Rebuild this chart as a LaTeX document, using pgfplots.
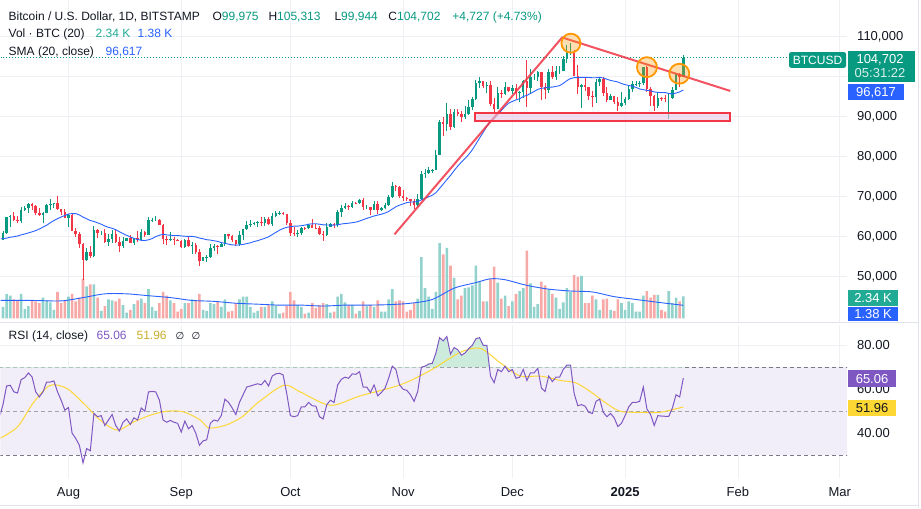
\documentclass[border=0pt]{standalone}
\usepackage{pgfplots}
\pgfplotsset{compat=1.18}
\usepackage{pgfplotstable}
\usepgfplotslibrary{fillbetween}
\usepackage{fontspec}
\setmainfont{Liberation Sans}
\newfontfamily\dejavu{DejaVu Sans}
\definecolor{tvgreen}{HTML}{089981}
\definecolor{tvred}{HTML}{F23645}
\definecolor{volgreen}{HTML}{92D2CC}
\definecolor{volred}{HTML}{F7A9A7}
\definecolor{tvblue}{HTML}{2962FF}
\definecolor{rsipurple}{HTML}{7E57C2}
\definecolor{rsiyellow}{HTML}{FDD835}
\definecolor{rsiband}{HTML}{F2EEF9}
\definecolor{gridc}{HTML}{EEF0F4}
\definecolor{txt}{HTML}{131722}
\definecolor{dashc}{HTML}{787B86}
\definecolor{volvalgreen}{HTML}{22AB94}
\definecolor{obfill}{HTML}{CDEBDC}
\definecolor{osfill}{HTML}{F9C9CD}
\definecolor{tvorange}{HTML}{FF9800}
\definecolor{boxfill}{HTML}{E7C9E6}
\definecolor{sepc}{HTML}{E0E3EB}
\newcommand\hdr{\fontsize{12}{14}\selectfont}
\newcommand\lbl{\fontsize{13}{15}\selectfont}

\pgfplotstableread{
d o h l c v
-18 59200 61400 59000 60800 1.2
-17 60800 64900 60650 64800 2.6
-16 64800 65400 62400 65100 2.4
-15 65100 66100 63900 64100 2.0
-14 64100 65100 63250 63950 1.9
-13 63950 67450 63350 66700 2.6
-12 66700 67600 66450 67150 1.0
-11 67150 68350 65800 68200 1.3
-10 68200 68450 66650 67600 1.9
-9 67600 67800 65400 65950 1.8
-8 65950 67100 65150 65400 1.6
-7 65400 66150 63450 65800 2.2
-6 65800 68200 65750 67900 1.9
-5 67900 69400 66650 68000 1.7
-4 68000 68300 67050 68250 0.9
-3 68250 70050 66600 66800 2.8
-2 66800 66950 65350 66200 1.6
-1 66200 66800 64550 64600 1.9
0 64600 65600 62300 65350 2.3
1 65350 65600 61250 61450 2.6
2 61450 62200 59850 60700 1.8
3 60700 61100 57200 58100 2.2
4 58100 58300 49050 54000 4.2
5 54000 57050 53950 56050 3.4
6 56050 57700 54600 55100 3.6
7 55100 62700 54750 61700 3.6
8 61700 61750 59600 60900 2.2
9 60900 61450 60300 60900 0.8
10 60900 61800 58300 58700 1.3
11 58700 60650 57650 59350 2.0
12 59350 61550 58450 60600 1.9
13 60600 61800 58450 58700 1.8
14 58700 59850 56100 57550 2.1
15 57550 59800 57100 58900 1.4
16 58900 59650 58800 59500 0.6
17 59500 60250 58450 58450 0.9
18 58450 59600 57850 59500 1.5
19 59500 61350 58600 59000 1.9
20 59000 61800 58800 61150 2.1
21 61150 61400 59800 60400 1.6
22 60400 64900 60350 64100 3.1
23 64100 64500 63600 64200 1.2
24 64200 65000 63800 64200 0.8
25 64200 64450 62800 62850 1.6
26 62850 63200 58100 59400 2.8
27 59400 60200 57900 59000 2.4
28 59000 61150 58800 59350 1.9
29 59350 59900 57850 59100 1.6
30 59100 59400 58750 58950 0.7
31 58950 59050 57200 57300 1.0
32 57300 59400 57100 59100 1.6
33 59100 59800 57400 57500 1.6
34 57500 58500 55600 57950 2.0
35 57950 58300 55650 56150 1.9
36 56150 56950 52550 53950 2.6
37 53950 54850 53750 54850 0.9
38 54850 55300 53650 54900 0.8
39 54900 58100 54600 57000 1.6
40 57000 58000 56400 57650 1.5
41 57650 57950 55550 57350 1.8
42 57350 58600 57350 58130 1.2
43 58130 60650 57650 60550 2.0
44 60550 60650 59450 60000 0.7
45 60000 60400 58700 59150 0.8
46 59150 59200 57500 58200 1.6
47 58200 61300 57650 60300 2.0
48 60300 61750 59200 61750 2.3
49 61750 63850 61600 62950 2.3
50 62950 64100 62400 63200 1.2
51 63200 63550 62750 63350 0.6
52 63350 63950 62400 63580 0.8
53 63580 64750 62650 63340 1.2
54 63340 64800 62700 64260 1.2
55 64260 64800 62950 63150 1.4
56 63150 65800 62700 65180 1.8
57 65180 66450 64800 65800 1.4
58 65800 66250 65450 65890 0.5
59 65890 66050 65400 65600 0.6
60 65600 65700 62900 63330 1.3
61 63330 64100 60150 60800 2.8
62 60800 62400 60000 60650 1.9
63 60650 61500 59800 60750 1.4
64 60750 62450 60450 62100 1.2
65 62100 62400 61700 62050 0.5
66 62050 63000 61850 62800 0.6
67 62800 64450 62150 62200 1.6
68 62200 63150 61850 62150 1.1
69 62150 62550 60300 60600 1.4
70 60600 61300 58900 60300 1.6
71 60300 63400 60050 62450 1.5
72 62450 63450 62400 63200 0.6
73 63200 63300 62050 62850 0.7
74 62850 66500 62450 66050 2.3
75 66050 67900 64800 67050 2.6
76 67050 68400 66750 67600 1.7
77 67600 67950 66700 67400 1.4
78 67400 68950 67100 68400 1.4
79 68400 68700 68050 68350 0.5
80 68350 69400 68100 69000 0.8
81 69000 69500 66600 67400 1.8
82 67400 67800 66850 67400 1.3
83 67400 67450 65300 66650 1.4
84 66650 68800 66500 68150 1.2
85 68150 68750 65550 66600 1.9
86 66600 67450 66450 67000 0.7
87 67000 68300 66800 67900 0.7
88 67900 70250 67500 69900 2.0
89 69900 73600 69700 72700 3.1
90 72700 72950 71450 72300 1.8
91 72300 72650 69700 70200 1.9
92 70200 71600 68800 69500 1.8
93 69500 69950 68800 69350 0.7
94 69350 69400 67500 68750 0.9
95 68750 69450 66800 67800 1.6
96 67800 70550 67450 69400 2.1
97 69400 76400 69050 75600 6.5
98 75600 76950 74500 75900 3.2
99 75900 77250 75600 76550 2.3
100 76550 76950 75950 76700 1.0
101 76700 81500 76500 80450 2.8
102 80450 89000 80250 88700 8.0
103 88700 89950 85100 88000 6.8
104 88000 93400 86300 90500 7.5
105 90500 91800 86700 87400 5.6
106 87400 91850 87050 91050 4.3
107 91050 91800 90100 90600 2.0
108 90600 91450 88700 89850 2.4
109 89850 92600 89400 90500 3.2
110 90500 94000 90400 92300 3.3
111 92300 94900 91500 94300 3.5
112 94300 99000 94100 98350 5.6
113 98350 99800 97200 98900 3.9
114 98900 98950 97150 97700 1.8
115 97700 98550 95750 97900 1.8
116 97900 98900 92600 93000 4.2
117 93000 94650 90800 91950 5.5
118 91950 97350 91800 95900 3.8
119 95900 96650 94650 95650 2.1
120 95650 98700 95350 97450 2.4
121 97450 97450 96100 96400 1.3
122 96400 97850 95700 97200 1.8
123 97200 98150 94400 95850 2.6
124 95850 96300 93600 96000 2.9
125 96000 99000 94650 98750 3.2
126 98750 104000 92300 97000 7.2
127 97000 101900 95950 99900 3.7
128 99900 100550 99050 99900 1.2
129 99900 101400 98800 101150 1.5
130 101150 101200 94200 97350 3.9
131 97350 98300 94300 96600 3.5
132 96600 101900 95750 101100 3.1
133 101100 102500 99350 99950 2.6
134 99950 102650 99200 101400 2.2
135 101400 102650 100650 101400 1.0
136 101400 105200 101250 104300 1.7
137 104300 107800 103300 106050 3.2
138 106050 108350 105350 106150 2.8
139 106150 106500 100000 100200 4.6
140 100200 102800 95700 97450 4.4
141 97450 98150 92200 97800 4.5
142 97800 99550 96450 97250 1.6
143 97250 97400 94200 95100 1.6
144 95100 96450 92450 94750 2.4
145 94750 99400 93400 98700 2.0
146 98700 99950 97600 99400 0.9
147 99400 99950 95150 95800 2.0
148 95800 97400 93500 94200 2.1
149 94200 95650 94150 95150 0.9
150 95150 95200 93100 93550 0.8
151 93550 94950 91400 92650 2.0
152 92650 96150 92450 93400 1.6
153 93400 94950 92750 94400 0.9
154 94400 97800 94200 96900 1.8
155 96900 98950 96000 98100 1.6
156 98100 98750 97550 98200 0.7
157 98200 98800 97250 98350 0.7
158 98350 102450 97950 102300 2.4
159 102300 102700 96100 96950 2.9
160 96950 97250 92550 95050 2.2
161 95050 95350 91250 92500 2.5
162 92500 95800 92200 94700 2.5
163 94700 94950 93850 94550 0.9
164 94550 95400 93700 94500 0.7
165 94500 95900 89250 94500 2.9
166 94500 97350 94300 96500 1.6
167 96500 100700 96500 100500 2.2
168 100500 100800 97300 99975 1.8
169 99975 105313 99944 104702 2.34
}\ohlc

\pgfplotstableread{
d s
-19 59390
-18 59420
-17 59570
-16 59785
-15 59910
-14 60090
-13 60375
-12 60600
-11 60865
-10 61140
-9 61430
-8 61850
-7 62310
-6 62790
-5 63400
-4 63975
-3 64430
-2 64855
-1 65220
0 65590
1 65705
2 65700
3 65365
4 64810
5 64408
6 63965
7 63715
8 63403
9 63038
10 62593
11 62263
12 62023
13 61668
14 61150
15 60695
16 60258
17 59840
18 59505
19 59225
20 59015
21 58963
22 59133
23 59438
24 59948
25 60288
26 60503
27 60368
28 60290
29 60200
30 60213
31 60110
32 60035
33 59975
34 59995
35 59858
36 59580
37 59400
38 59170
39 59070
40 58895
41 58743
42 58444
43 58262
44 58052
45 57867
46 57807
47 57872
48 57992
49 58184
50 58397
51 58699
52 58923
53 59215
54 59531
55 59881
56 60442
57 60990
58 61539
59 61969
60 62253
61 62426
62 62552
63 62562
64 62667
65 62812
66 63042
67 63137
68 63157
69 63039
70 62894
71 62849
72 62830
73 62806
74 62895
75 63090
76 63211
77 63291
78 63417
79 63554
80 63838
81 64168
82 64505
83 64800
84 65103
85 65330
86 65540
87 65825
88 66213
89 66818
90 67418
91 67805
92 68120
93 68445
94 68580
95 68618
96 68708
97 69118
98 69493
99 69903
100 70288
101 70940
102 72005
103 73073
104 74190
105 75230
106 76433
107 77568
108 78565
109 79455
110 80455
111 81660
112 83103
113 84580
114 86028
115 87533
116 88713
117 89530
118 90530
119 91485
120 92523
121 93320
122 93745
123 94138
124 94413
125 94980
126 95278
127 95743
128 96245
129 96778
130 97030
131 97145
132 97283
133 97335
134 97520
135 97695
136 98260
137 98965
138 99478
139 99705
140 99705
141 99775
142 99778
143 99740
144 99678
145 99675
146 99795
147 99590
148 99305
149 99005
150 98815
151 98618
152 98233
153 97955
154 97730
155 97565
156 97260
157 96875
158 96683
159 96520
160 96400
161 96135
162 96008
163 95980
164 95968
165 95758
166 95613
167 95848
168 96136
169 96617
}\smatab

\pgfplotstableread{
d r
-19 47
-18 53
-17 61.5
-16 61.8
-15 58.8
-14 58.3
-13 64.4
-12 65.3
-11 67.4
-10 65.6
-9 58.8
-8 56.5
-7 58.8
-6 63.3
-5 63.3
-4 63.8
-3 58.8
-2 55
-1 50.5
0 51.7
1 40
2 37.6
3 34.5
4 26.5
5 33
6 32
7 49
8 47.5
9 48
10 43.5
11 46
12 48.5
13 43.5
14 41
15 45
16 46.5
17 44
18 47
19 46
20 51.5
21 50
22 58.8
23 59
24 58.8
25 55
26 46
27 45
28 45.8
29 45
30 44.5
31 40.5
32 45.5
33 42
34 43.5
35 40
36 34.5
37 36.5
38 37
39 44.5
40 46
41 45.5
42 48
43 55.5
44 54
45 51.5
46 48.5
47 54
48 57.5
49 61
50 61.5
51 62
52 62.5
53 62
54 64
55 61.5
56 66
57 67
58 67.3
59 66.5
60 58
61 48
62 47.5
63 48
64 52
65 52
66 54
67 52.5
68 52.3
69 47.5
70 46.5
71 53
72 55
73 54
74 62
75 64.5
76 65.5
77 65
78 67
79 66.8
80 68
81 61
82 61
83 58.5
84 62
85 57
86 58.5
87 60.5
88 65
89 70.5
90 69
91 62
92 60
93 59.5
94 57.5
95 54.5
96 59
97 70
98 70.5
99 71.5
100 71.8
101 76.5
102 83.5
103 82
104 84
105 76
106 79
107 78
108 75.5
109 76.5
110 78.5
111 80
112 83
113 83.5
114 80
115 80
116 66
117 63
118 69
119 68
120 70.5
121 68
122 69
123 65
124 65.5
125 69
126 64
127 67.5
128 67.5
129 69.5
130 60.5
131 59
132 66
133 63.5
134 65.5
135 65.5
136 69
137 71
138 71
139 58
140 52.5
141 53
142 52.3
143 49.5
144 49
145 54.5
146 55.5
147 49.5
148 47.5
149 49
150 47
151 43
152 44.5
153 48
154 52
155 54
156 54
157 54.5
158 61
159 51
160 48.5
161 43.5
162 48
163 47.8
164 47.7
165 47.7
166 51.5
167 57.5
168 56.5
169 65.06
}\rsitab

\pgfplotsset{
  base/.style={scale only axis, width=847pt, xmin=-18.68, xmax=214,
    axis line style={draw=none}, tick style={draw=none},
    xtick={0,31,61,92,122,153,184,212}, xticklabels={},
    grid style={gridc, line width=0.8pt},
    /pgf/number format/assume math mode=true,
    ticklabel style={font=\lbl, text=txt}},
  bare/.style={base, xtick=\empty, ytick=\empty},
}

\begin{document}
\begin{tikzpicture}[x=1pt,y=1pt]
\fill[white] (0pt,0pt) rectangle (921pt,508pt);

% ---------- price grid + labels
\begin{axis}[base, at={(0pt,186pt)}, anchor=south west, height=322pt,
  ymin=38500, ymax=119000,
  ytick={50000,60000,70000,80000,90000,110000},
  extra y ticks={100000}, extra y tick labels={},
  extra y tick style={ymajorgrids=true},
  xmajorgrids, ymajorgrids,
  yticklabel pos=right, scaled y ticks=false,
  yticklabel style={anchor=west, inner sep=0pt, xshift=10pt,
     /pgf/number format/.cd, fixed, 1000 sep={,}}]
\addplot[draw=none] coordinates {(0,60000)};
\end{axis}

% ---------- volume
\begin{axis}[bare, at={(0pt,186pt)}, anchor=south west, height=322pt,
  ymin=-0.43, ymax=33.8]
\addplot[ybar, bar width=2.6pt, bar shift=0pt, fill=volgreen, draw=none,
  restrict expr to domain={\thisrow{c}-\thisrow{o}}{0:1000000}]
  table[x=d,y=v] {\ohlc};
\addplot[ybar, bar width=2.6pt, bar shift=0pt, fill=volred, draw=none,
  restrict expr to domain={\thisrow{c}-\thisrow{o}}{-1000000:-0.5}]
  table[x=d,y=v] {\ohlc};
\addplot[tvblue, line width=0.9pt, smooth] coordinates {
(-19,1.9) (-10,1.9) (-2,1.85) (4,2.2) (10,2.6) (16,2.6) (22,2.4) (28,2.2)
(34,1.9) (40,1.8) (46,1.6) (52,1.5) (58,1.4) (64,1.4) (70,1.3) (76,1.4)
(82,1.4) (88,1.45) (94,1.6) (100,2.0) (106,3.2) (112,3.8) (116,4.2) (120,4.1)
(126,3.5) (132,3.1) (138,2.9) (144,2.8) (150,2.3) (156,2.0) (162,1.7) (169,1.38)};
\end{axis}

% ---------- candles
\begin{axis}[bare, at={(0pt,186pt)}, anchor=south west, height=322pt,
  ymin=38500, ymax=119000, clip=false]
\begin{scope}
\clip (axis cs:-18.68,38500) rectangle (axis cs:214,119000);
\addplot[tvgreen, line width=0.9pt, quiver={u=0, v=\thisrow{h}-\thisrow{l}},
  restrict expr to domain={\thisrow{c}-\thisrow{o}}{0:1000000}]
  table[x=d,y=l] {\ohlc};
\addplot[tvred, line width=0.9pt, quiver={u=0, v=\thisrow{h}-\thisrow{l}},
  restrict expr to domain={\thisrow{c}-\thisrow{o}}{-1000000:-0.5}]
  table[x=d,y=l] {\ohlc};
\addplot[tvgreen, line width=2.5pt, quiver={u=0, v=\thisrow{c}-\thisrow{o}},
  restrict expr to domain={\thisrow{c}-\thisrow{o}}{0:1000000}]
  table[x=d,y=o] {\ohlc};
\addplot[tvred, line width=2.5pt, quiver={u=0, v=\thisrow{c}-\thisrow{o}},
  restrict expr to domain={\thisrow{c}-\thisrow{o}}{-1000000:-0.5}]
  table[x=d,y=o] {\ohlc};
\addplot[tvblue, line width=0.9pt] table[x=d,y=s] {\smatab};
\end{scope}
% current price line
\draw[tvgreen, line width=0.9pt, dash pattern=on 1pt off 2pt]
  (axis cs:-18.68,104702) -- (axis cs:198.1,104702);
% annotations
\draw[tvred, line width=2pt, opacity=0.85]
  (axis cs:89.6,60500) -- (axis cs:135.7,109750) -- (axis cs:181.9,96375);
\draw[tvred, line width=2.2pt, fill=boxfill, fill opacity=0.6]
  (axis cs:111.8,90825) rectangle (axis cs:181.9,88825);
\draw[tvorange, line width=1.8pt, fill=tvorange, fill opacity=0.3]
  (axis cs:138.1,108325) circle[radius=9.5pt];
\draw[tvorange, line width=1.8pt, fill=tvorange, fill opacity=0.3]
  (axis cs:159.0,102325) circle[radius=10pt];
\draw[tvorange, line width=1.8pt, fill=tvorange, fill opacity=0.3]
  (axis cs:167.9,100675) circle[radius=10pt];
\end{axis}

% ---------- RSI background
\begin{axis}[base, at={(0pt,30pt)}, anchor=south west, height=153pt,
  ymin=19.5, ymax=89.1, ytick={40,60,80}, yticklabels={40.00,60.00,80.00},
  xticklabels={Aug,Sep,Oct,Nov,Dec,\textbf{2025},Feb,Mar},
  xmajorgrids, ymajorgrids,
  yticklabel pos=right,
  yticklabel style={anchor=west, inner sep=0pt, xshift=10pt},
  xticklabel style={anchor=north, inner sep=0pt, yshift=-9pt}]
\addplot[draw=none, fill=rsiband] coordinates {(-19,30) (215,30) (215,70) (-19,70)} -- cycle;
\addplot[dashc, line width=0.8pt, dash pattern=on 4pt off 3pt] coordinates {(-19,70) (215,70)};
\addplot[dashc!70, line width=0.8pt, dash pattern=on 4pt off 3pt] coordinates {(-19,50) (215,50)};
\addplot[dashc, line width=0.8pt, dash pattern=on 4pt off 3pt] coordinates {(-19,30) (215,30)};
\end{axis}

% overbought fill
\begin{axis}[bare, at={(0pt,141pt)}, anchor=south west, height=42pt, ymin=70, ymax=89.1]
\addplot[fill=obfill, draw=none] table[x=d,y=r] {\rsitab} \closedcycle;
\end{axis}
% oversold fill
\begin{axis}[bare, at={(0pt,30pt)}, anchor=south west, height=23.1pt, ymin=19.5, ymax=30]
\addplot[name path=rr, draw=none] table[x=d,y=r] {\rsitab};
\addplot[name path=tt, draw=none] coordinates {(-19,100) (170,100)};
\addplot[osfill] fill between[of=rr and tt];
\end{axis}

% RSI lines
\begin{axis}[bare, at={(0pt,30pt)}, anchor=south west, height=153pt, ymin=19.5, ymax=89.1]
\addplot[rsiyellow, line width=1pt, smooth] coordinates {
(-19,37.5) (-14,42.9) (-9.5,54.2) (-5,61.8) (-0.4,60.3) (4.2,53.5) (8.8,45.9)
(13.4,41.4) (17.9,45.1) (22.5,48.2) (27.1,50) (31.7,49.7) (36.3,45.9) (38.6,42.4)
(43.1,43.6) (47.7,47.4) (52.3,54.2) (59.2,61.8) (63.7,58.8) (72,52.7) (80.2,57)
(91.2,62) (99.5,68.6) (107.7,76.8) (113.2,78.6) (118.7,72) (124.2,66) (129.7,66)
(135.2,64) (139.3,63) (143.4,59) (147.5,54) (151.6,50) (157.1,49.5) (162.6,49.5)
(169,51.96)};
\addplot[rsipurple, line width=1pt] table[x=d,y=r] {\rsitab};
\end{axis}

% separators / borders
\draw[sepc, line width=1pt] (0pt,186pt) -- (918pt,186pt);
\draw[sepc, line width=1pt] (918pt,0pt) -- (918pt,508pt);
\draw[sepc, line width=1pt] (0pt,3pt) -- (918pt,3pt);

% header
\node[anchor=base west, inner sep=0pt, font=\hdr, text=txt] at (8pt,488pt) {Bitcoin / U.S. Dollar, 1D, BITSTAMP};
\node[anchor=base west, inner sep=0pt, font=\hdr, text=txt] at (212pt,488pt) {O\textcolor{tvgreen}{99,975}};
\node[anchor=base west, inner sep=0pt, font=\hdr, text=txt] at (268pt,488pt) {H\textcolor{tvgreen}{105,313}};
\node[anchor=base west, inner sep=0pt, font=\hdr, text=txt] at (334pt,488pt) {L\textcolor{tvgreen}{99,944}};
\node[anchor=base west, inner sep=0pt, font=\hdr, text=txt] at (388pt,488pt) {C\textcolor{tvgreen}{104,702}};
\node[anchor=base west, inner sep=0pt, font=\hdr, text=tvgreen] at (452pt,488pt) {+4,727 (+4.73\%)};
\node[anchor=base west, inner sep=0pt, font=\hdr, text=txt] at (8pt,470.7pt) {Vol · BTC (20)};
\node[anchor=base west, inner sep=0pt, font=\hdr, text=volvalgreen] at (95pt,470.7pt) {2.34 K};
\node[anchor=base west, inner sep=0pt, font=\hdr, text=tvblue] at (137pt,470.7pt) {1.38 K};
\node[anchor=base west, inner sep=0pt, font=\hdr, text=txt] at (8pt,453pt) {SMA (20, close)};
\node[anchor=base west, inner sep=0pt, font=\hdr, text=tvblue] at (105pt,453pt) {96,617};
\node[anchor=base west, inner sep=0pt, font=\hdr, text=txt] at (8pt,169pt) {RSI (14, close)};
\node[anchor=base west, inner sep=0pt, font=\hdr, text=rsipurple] at (96pt,169pt) {65.06};
\node[anchor=base west, inner sep=0pt, font=\hdr, text=rsiyellow!80!black] at (136pt,169pt) {51.96};
\node[anchor=base west, inner sep=0pt, font=\dejavu\fontsize{10}{12}\selectfont, text=txt] at (175pt,169pt) {∅};
\node[anchor=base west, inner sep=0pt, font=\dejavu\fontsize{10}{12}\selectfont, text=txt] at (191pt,169pt) {∅};

% right-hand value labels
\fill[tvgreen, rounded corners=2pt] (789pt,440.7pt) rectangle (846pt,456.3pt);
\node[text=white, font=\hdr] at (817.5pt,448.5pt) {BTCUSD};
\fill[tvgreen] (848pt,426.3pt) rectangle (915pt,457pt);
\node[text=white, font=\lbl] at (880pt,449pt) {104,702};
\node[text=white!85!tvgreen, font=\lbl] at (880pt,435.7pt) {05:31:22};
\fill[tvblue] (848pt,408pt) rectangle (904pt,424pt);
\node[text=white, font=\lbl] at (876pt,416pt) {96,617};
\fill[volvalgreen] (848pt,202.3pt) rectangle (898pt,218.7pt);
\node[text=white, font=\lbl] at (873pt,210.5pt) {2.34 K};
\begin{scope}
\clip (840pt,187pt) rectangle (921pt,202pt);
\fill[tvblue] (848pt,187pt) rectangle (898pt,201.3pt);
\node[text=white, font=\lbl] at (873pt,194pt) {1.38 K};
\end{scope}
\fill[rsipurple] (848pt,121.3pt) rectangle (896pt,138pt);
\node[text=white, font=\lbl] at (872pt,129.7pt) {65.06};
\fill[rsiyellow] (848pt,92pt) rectangle (896pt,108.7pt);
\node[text=txt, font=\lbl] at (872pt,100.3pt) {51.96};
\end{tikzpicture}
\end{document}
